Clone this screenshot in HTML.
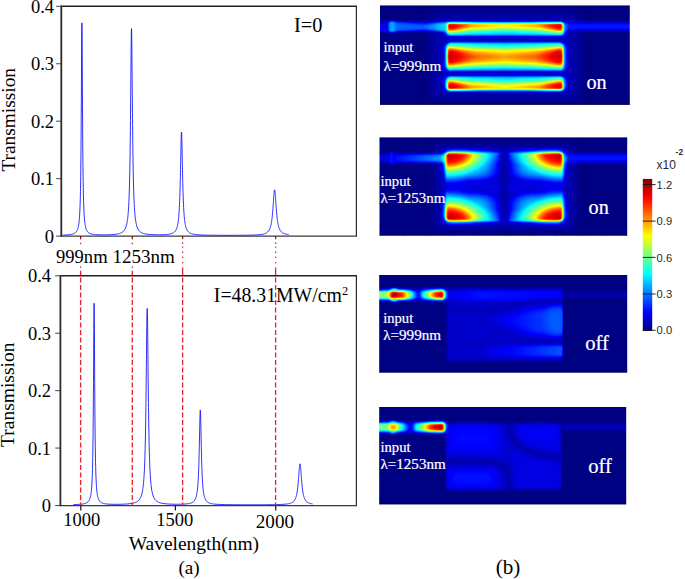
<!DOCTYPE html>
<html lang="en"><head><meta charset="utf-8"><title>Transmission spectra and field maps</title>
<style>html,body{margin:0;padding:0;background:#fff}svg{display:block}</style></head><body>
<svg width="685" height="579" viewBox="0 0 685 579">
<defs>
<filter id="jet" x="0" y="0" width="100%" height="100%" filterUnits="objectBoundingBox" color-interpolation-filters="sRGB"><feComponentTransfer><feFuncR type="table" tableValues="0 0 0 0 0.5 1 1 1 0.5"/><feFuncG type="table" tableValues="0 0 0.5 1 1 1 0.5 0 0"/><feFuncB type="table" tableValues="0.5 1 1 1 0.5 0 0 0 0"/></feComponentTransfer></filter>
<filter id="b05" filterUnits="userSpaceOnUse" x="360" y="-10" width="300" height="540" color-interpolation-filters="sRGB"><feGaussianBlur stdDeviation="0.5"/></filter>
<filter id="b1" filterUnits="userSpaceOnUse" x="360" y="-10" width="300" height="540" color-interpolation-filters="sRGB"><feGaussianBlur stdDeviation="1"/></filter>
<filter id="b12" filterUnits="userSpaceOnUse" x="360" y="-10" width="300" height="540" color-interpolation-filters="sRGB"><feGaussianBlur stdDeviation="1.25"/></filter>
<filter id="b15" filterUnits="userSpaceOnUse" x="360" y="-10" width="300" height="540" color-interpolation-filters="sRGB"><feGaussianBlur stdDeviation="1.5"/></filter>
<filter id="b2" filterUnits="userSpaceOnUse" x="360" y="-10" width="300" height="540" color-interpolation-filters="sRGB"><feGaussianBlur stdDeviation="2"/></filter>
<filter id="b3" filterUnits="userSpaceOnUse" x="360" y="-10" width="300" height="540" color-interpolation-filters="sRGB"><feGaussianBlur stdDeviation="3"/></filter>
<filter id="b4" filterUnits="userSpaceOnUse" x="360" y="-10" width="300" height="540" color-interpolation-filters="sRGB"><feGaussianBlur stdDeviation="4"/></filter>
<filter id="b6" filterUnits="userSpaceOnUse" x="360" y="-10" width="300" height="540" color-interpolation-filters="sRGB"><feGaussianBlur stdDeviation="6"/></filter>
<linearGradient id="cbar" x1="0" y1="1" x2="0" y2="0"><stop offset="0" stop-color="#000080"/><stop offset="0.125" stop-color="#0000ff"/><stop offset="0.375" stop-color="#00ffff"/><stop offset="0.5" stop-color="#80ff80"/><stop offset="0.625" stop-color="#ffff00"/><stop offset="0.875" stop-color="#ff0000"/><stop offset="1" stop-color="#800000"/></linearGradient>
</defs>
<rect width="685" height="579" fill="#fff"/>
<path d="M63.00,235.13 L65.00,235.04 L67.00,234.92 L69.00,234.74 L69.50,234.68 L70.00,234.62 L70.50,234.54 L71.00,234.46 L71.50,234.36 L72.00,234.25 L72.50,234.12 L73.00,233.97 L73.50,233.79 L74.00,233.57 L74.50,233.32 L75.00,233.00 L75.50,232.61 L76.00,232.12 L76.50,231.50 L77.00,230.67 L77.15,230.38 L77.30,230.05 L77.45,229.69 L77.60,229.30 L77.75,228.86 L77.90,228.38 L78.05,227.84 L78.20,227.23 L78.35,226.56 L78.50,225.79 L78.65,224.93 L78.80,223.95 L78.95,222.82 L79.10,221.53 L79.25,220.03 L79.40,218.28 L79.55,216.23 L79.70,213.80 L79.85,210.90 L80.00,207.40 L80.15,203.16 L80.30,197.94 L80.45,191.48 L80.51,188.46 L80.57,185.15 L80.63,181.52 L80.69,177.54 L80.75,173.15 L80.81,168.33 L80.87,163.03 L80.93,157.20 L80.99,150.78 L81.05,143.75 L81.11,136.05 L81.17,127.67 L81.23,118.59 L81.29,108.83 L81.35,98.47 L81.41,87.62 L81.47,76.49 L81.53,65.34 L81.59,54.56 L81.65,44.60 L81.71,35.97 L81.77,29.19 L81.83,24.71 L81.89,22.87 L81.95,23.79 L82.01,27.42 L82.07,33.48 L82.13,41.55 L82.19,51.12 L82.25,61.68 L82.31,72.75 L82.37,83.92 L82.43,94.89 L82.49,105.43 L82.55,115.40 L82.61,124.71 L82.67,133.33 L82.73,141.25 L82.79,148.50 L82.85,155.12 L82.91,161.14 L82.97,166.61 L83.03,171.59 L83.09,176.11 L83.15,180.22 L83.21,183.96 L83.27,187.37 L83.33,190.49 L83.39,193.33 L83.45,195.93 L83.60,201.52 L83.75,206.06 L83.90,209.79 L84.05,212.87 L84.20,215.44 L84.35,217.61 L84.50,219.45 L84.65,221.02 L84.80,222.38 L84.95,223.56 L85.10,224.58 L85.25,225.48 L85.40,226.28 L85.55,226.98 L85.70,227.60 L85.85,228.16 L86.00,228.66 L86.15,229.11 L86.30,229.52 L86.45,229.89 L86.60,230.22 L86.75,230.53 L86.90,230.81 L87.40,231.58 L87.90,232.17 L88.40,232.63 L88.90,233.00 L89.40,233.30 L89.90,233.54 L90.40,233.74 L90.90,233.91 L91.40,234.05 L91.90,234.17 L92.40,234.27 L92.90,234.36 L93.40,234.43 L93.90,234.50 L94.40,234.56 L94.90,234.61 L95.40,234.65 L95.90,234.69 L97.90,234.80 L99.90,234.86 L101.90,234.89 L103.90,234.89 L105.90,234.87 L107.90,234.82 L109.90,234.75 L111.90,234.64 L113.90,234.49 L115.90,234.26 L117.90,233.92 L118.40,233.81 L118.90,233.68 L119.40,233.54 L119.90,233.38 L120.40,233.20 L120.90,232.99 L121.40,232.75 L121.90,232.47 L122.40,232.15 L122.90,231.76 L123.40,231.31 L123.90,230.77 L124.40,230.11 L124.90,229.31 L125.40,228.30 L125.90,227.03 L126.40,225.39 L126.90,223.24 L127.05,222.45 L127.20,221.60 L127.35,220.65 L127.50,219.61 L127.65,218.46 L127.80,217.18 L127.95,215.76 L128.10,214.17 L128.25,212.39 L128.40,210.38 L128.55,208.12 L128.70,205.55 L128.85,202.62 L129.00,199.28 L129.15,195.44 L129.30,191.02 L129.45,185.90 L129.60,179.95 L129.75,173.02 L129.90,164.95 L130.05,155.54 L130.11,151.36 L130.17,146.92 L130.23,142.22 L130.29,137.25 L130.35,131.99 L130.41,126.45 L130.47,120.64 L130.53,114.56 L130.59,108.22 L130.65,101.65 L130.71,94.89 L130.77,87.98 L130.83,80.99 L130.89,73.99 L130.95,67.08 L131.01,60.36 L131.07,53.95 L131.13,47.98 L131.19,42.59 L131.25,37.91 L131.31,34.08 L131.37,31.19 L131.43,29.34 L131.49,28.60 L131.55,28.97 L131.61,30.45 L131.67,33.00 L131.73,36.53 L131.79,40.94 L131.85,46.11 L131.91,51.90 L131.97,58.18 L132.03,64.81 L132.09,71.67 L132.15,78.65 L132.21,85.66 L132.27,92.60 L132.33,99.41 L132.39,106.05 L132.45,112.47 L132.51,118.64 L132.57,124.54 L132.63,130.17 L132.69,135.52 L132.75,140.59 L132.81,145.38 L132.87,149.91 L132.93,154.17 L132.99,158.19 L133.05,161.97 L133.20,170.47 L133.35,177.75 L133.50,184.01 L133.65,189.39 L133.80,194.03 L133.95,198.06 L134.10,201.55 L134.25,204.61 L134.40,207.29 L134.55,209.65 L134.70,211.74 L134.85,213.59 L135.00,215.24 L135.15,216.72 L135.30,218.04 L135.45,219.23 L135.60,220.31 L135.75,221.28 L135.90,222.17 L136.05,222.97 L136.20,223.71 L136.35,224.38 L136.50,225.00 L137.00,226.73 L137.50,228.06 L138.00,229.11 L138.50,229.95 L139.00,230.63 L139.50,231.19 L140.00,231.66 L140.50,232.06 L141.00,232.39 L141.50,232.67 L142.00,232.92 L142.50,233.13 L143.00,233.32 L143.50,233.48 L144.00,233.62 L144.50,233.75 L145.00,233.86 L145.50,233.96 L147.50,234.27 L149.50,234.48 L151.50,234.61 L153.50,234.70 L155.50,234.76 L157.50,234.79 L159.50,234.78 L161.50,234.75 L163.50,234.69 L165.50,234.58 L167.50,234.40 L168.00,234.34 L168.50,234.27 L169.00,234.19 L169.50,234.11 L170.00,234.00 L170.50,233.89 L171.00,233.76 L171.50,233.60 L172.00,233.43 L172.50,233.22 L173.00,232.97 L173.50,232.68 L174.00,232.33 L174.50,231.90 L175.00,231.37 L175.50,230.72 L176.00,229.88 L176.50,228.81 L176.65,228.43 L176.80,228.01 L176.95,227.56 L177.10,227.06 L177.25,226.52 L177.40,225.92 L177.55,225.26 L177.70,224.53 L177.85,223.72 L178.00,222.83 L178.15,221.83 L178.30,220.72 L178.45,219.47 L178.60,218.07 L178.75,216.48 L178.90,214.69 L179.05,212.65 L179.20,210.34 L179.35,207.69 L179.50,204.66 L179.65,201.19 L179.80,197.22 L179.95,192.67 L180.10,187.50 L180.16,185.24 L180.22,182.87 L180.28,180.39 L180.34,177.81 L180.40,175.12 L180.46,172.32 L180.52,169.44 L180.58,166.48 L180.64,163.45 L180.70,160.37 L180.76,157.28 L180.82,154.19 L180.88,151.13 L180.94,148.16 L181.00,145.30 L181.06,142.60 L181.12,140.11 L181.18,137.88 L181.24,135.95 L181.30,134.36 L181.36,133.16 L181.42,132.36 L181.48,132.00 L181.54,132.07 L181.60,132.58 L181.66,133.52 L181.72,134.85 L181.78,136.56 L181.84,138.60 L181.90,140.92 L181.96,143.48 L182.02,146.24 L182.08,149.14 L182.14,152.15 L182.20,155.22 L182.26,158.32 L182.32,161.41 L182.38,164.47 L182.44,167.48 L182.50,170.42 L182.56,173.27 L182.62,176.03 L182.68,178.69 L182.74,181.24 L182.80,183.68 L182.86,186.02 L182.92,188.24 L182.98,190.35 L183.04,192.36 L183.19,196.95 L183.34,200.96 L183.49,204.46 L183.64,207.52 L183.79,210.19 L183.94,212.53 L184.09,214.58 L184.24,216.39 L184.39,217.99 L184.54,219.41 L184.69,220.67 L184.84,221.79 L184.99,222.80 L185.14,223.70 L185.29,224.51 L185.44,225.25 L185.59,225.91 L185.74,226.51 L185.89,227.06 L186.04,227.56 L186.19,228.02 L186.34,228.44 L186.49,228.83 L186.64,229.18 L187.14,230.19 L187.64,230.97 L188.14,231.59 L188.64,232.09 L189.14,232.50 L189.64,232.84 L190.14,233.12 L190.64,233.36 L191.14,233.57 L191.64,233.74 L192.14,233.89 L192.64,234.03 L193.14,234.14 L193.64,234.25 L194.14,234.34 L194.64,234.42 L195.14,234.49 L195.64,234.55 L197.64,234.76 L199.64,234.90 L201.64,235.00 L203.64,235.07 L205.64,235.13 L207.64,235.18 L209.64,235.21 L211.64,235.24 L213.64,235.26 L215.64,235.28 L217.64,235.29 L219.64,235.30 L221.64,235.31 L223.64,235.32 L225.64,235.32 L227.64,235.33 L229.64,235.33 L231.64,235.32 L233.64,235.32 L235.64,235.32 L237.64,235.31 L239.64,235.30 L241.64,235.28 L243.64,235.26 L245.64,235.24 L247.64,235.21 L249.64,235.17 L251.64,235.12 L253.64,235.06 L255.64,234.97 L257.64,234.85 L259.64,234.67 L261.64,234.42 L262.14,234.33 L262.64,234.24 L263.14,234.13 L263.64,234.01 L264.14,233.87 L264.64,233.71 L265.14,233.53 L265.64,233.31 L266.14,233.07 L266.64,232.77 L267.14,232.42 L267.64,232.00 L268.14,231.49 L268.64,230.86 L269.14,230.08 L269.64,229.10 L269.79,228.75 L269.94,228.38 L270.09,227.98 L270.24,227.55 L270.39,227.08 L270.54,226.57 L270.69,226.01 L270.84,225.41 L270.99,224.76 L271.14,224.05 L271.29,223.27 L271.44,222.42 L271.59,221.50 L271.74,220.49 L271.89,219.38 L272.04,218.18 L272.19,216.86 L272.34,215.43 L272.49,213.87 L272.64,212.19 L272.79,210.38 L272.94,208.44 L273.09,206.40 L273.24,204.26 L273.30,203.38 L273.36,202.50 L273.42,201.61 L273.48,200.72 L273.54,199.83 L273.60,198.95 L273.66,198.08 L273.72,197.22 L273.78,196.39 L273.84,195.58 L273.90,194.80 L273.96,194.06 L274.02,193.36 L274.08,192.71 L274.14,192.11 L274.20,191.57 L274.26,191.10 L274.32,190.69 L274.38,190.36 L274.44,190.11 L274.50,189.93 L274.56,189.83 L274.62,189.82 L274.68,189.89 L274.74,190.04 L274.80,190.27 L274.86,190.58 L274.92,190.96 L274.98,191.41 L275.04,191.92 L275.10,192.50 L275.16,193.14 L275.22,193.82 L275.28,194.55 L275.34,195.32 L275.40,196.12 L275.46,196.94 L275.52,197.79 L275.58,198.66 L275.64,199.54 L275.70,200.42 L275.76,201.31 L275.82,202.20 L275.88,203.09 L275.94,203.97 L276.00,204.84 L276.06,205.69 L276.12,206.54 L276.27,208.58 L276.42,210.51 L276.57,212.31 L276.72,213.98 L276.87,215.53 L277.02,216.96 L277.17,218.26 L277.32,219.46 L277.47,220.56 L277.62,221.57 L277.77,222.49 L277.92,223.33 L278.07,224.10 L278.22,224.81 L278.37,225.46 L278.52,226.06 L278.67,226.61 L278.82,227.11 L278.97,227.58 L279.12,228.01 L279.27,228.41 L279.42,228.78 L279.57,229.13 L279.72,229.45 L280.22,230.36 L280.72,231.09 L281.22,231.67 L281.72,232.15 L282.22,232.55 L282.72,232.88 L283.22,233.16 L283.72,233.40 L284.22,233.60 L284.72,233.78 L285.22,233.93 L285.72,234.06 L286.22,234.18 L286.72,234.28 L287.22,234.38 L287.72,234.46 L288.22,234.53 L288.72,234.60" fill="none" stroke="#0808ff" stroke-width="0.85" stroke-linejoin="round"/>
<path d="M356.4,6.3 V236.1" fill="none" stroke="#2a2a2a" stroke-width="1.2"/>
<path d="M61.3,6.3 H357.0" fill="none" stroke="#222" stroke-width="1.5"/>
<path d="M60.4,236.1 H357.0" fill="none" stroke="#3a3a3a" stroke-width="1.25"/>
<path d="M61.3,5.55 V236.75" fill="none" stroke="#2c2c2c" stroke-width="1.8"/>
<path d="M56.099999999999994,236.10 H61.3" stroke="#333" stroke-width="0.9"/>
<path d="M56.099999999999994,178.65 H61.3" stroke="#333" stroke-width="0.9"/>
<path d="M56.099999999999994,121.20 H61.3" stroke="#333" stroke-width="0.9"/>
<path d="M56.099999999999994,63.75 H61.3" stroke="#333" stroke-width="0.9"/>
<path d="M56.099999999999994,6.30 H61.3" stroke="#333" stroke-width="0.9"/>
<path d="M73.50,504.59 L75.50,504.52 L77.50,504.43 L79.50,504.31 L81.50,504.12 L82.00,504.06 L82.50,503.99 L83.00,503.92 L83.50,503.83 L84.00,503.72 L84.50,503.60 L85.00,503.47 L85.50,503.30 L86.00,503.11 L86.50,502.88 L87.00,502.59 L87.50,502.25 L88.00,501.81 L88.50,501.26 L89.00,500.55 L89.50,499.59 L89.65,499.24 L89.80,498.86 L89.95,498.43 L90.10,497.96 L90.25,497.44 L90.40,496.85 L90.55,496.19 L90.70,495.45 L90.85,494.61 L91.00,493.66 L91.15,492.57 L91.30,491.31 L91.45,489.86 L91.60,488.16 L91.75,486.17 L91.90,483.81 L92.05,481.01 L92.20,477.63 L92.35,473.52 L92.50,468.49 L92.65,462.25 L92.71,459.35 L92.77,456.17 L92.83,452.68 L92.89,448.85 L92.95,444.65 L93.01,440.03 L93.07,434.96 L93.13,429.38 L93.19,423.26 L93.25,416.56 L93.31,409.25 L93.37,401.29 L93.43,392.69 L93.49,383.48 L93.55,373.72 L93.61,363.53 L93.67,353.10 L93.73,342.68 L93.79,332.64 L93.85,323.39 L93.91,315.39 L93.97,309.11 L94.03,304.97 L94.09,303.27 L94.15,304.12 L94.21,307.47 L94.27,313.08 L94.33,320.55 L94.39,329.44 L94.45,339.27 L94.51,349.60 L94.57,360.06 L94.63,370.36 L94.69,380.28 L94.75,389.68 L94.81,398.49 L94.87,406.66 L94.93,414.19 L94.99,421.09 L95.05,427.40 L95.11,433.15 L95.17,438.38 L95.23,443.15 L95.29,447.48 L95.35,451.43 L95.41,455.03 L95.47,458.31 L95.53,461.30 L95.59,464.04 L95.65,466.54 L95.80,471.94 L95.95,476.33 L96.10,479.93 L96.25,482.91 L96.40,485.41 L96.55,487.51 L96.70,489.29 L96.85,490.82 L97.00,492.14 L97.15,493.28 L97.30,494.28 L97.45,495.15 L97.60,495.92 L97.75,496.61 L97.90,497.21 L98.05,497.76 L98.20,498.24 L98.35,498.68 L98.50,499.08 L98.65,499.44 L98.80,499.76 L98.95,500.06 L99.10,500.33 L99.60,501.08 L100.10,501.66 L100.60,502.11 L101.10,502.46 L101.60,502.75 L102.10,502.99 L102.60,503.18 L103.10,503.35 L103.60,503.48 L104.10,503.60 L104.60,503.70 L105.10,503.79 L105.60,503.86 L106.10,503.92 L106.60,503.98 L107.10,504.03 L107.60,504.07 L108.10,504.11 L110.10,504.22 L112.10,504.28 L114.10,504.32 L116.10,504.32 L118.10,504.31 L120.10,504.28 L122.10,504.23 L124.10,504.15 L126.10,504.04 L128.10,503.89 L130.10,503.67 L132.10,503.36 L134.10,502.90 L134.60,502.75 L135.10,502.58 L135.60,502.38 L136.10,502.16 L136.60,501.91 L137.10,501.62 L137.60,501.29 L138.10,500.90 L138.60,500.44 L139.10,499.89 L139.60,499.24 L140.10,498.45 L140.60,497.49 L141.10,496.29 L141.60,494.78 L142.10,492.84 L142.60,490.30 L142.75,489.38 L142.90,488.38 L143.05,487.28 L143.20,486.06 L143.35,484.73 L143.50,483.25 L143.65,481.60 L143.80,479.78 L143.95,477.74 L144.10,475.46 L144.25,472.89 L144.40,470.00 L144.55,466.73 L144.70,463.03 L144.85,458.81 L145.00,454.00 L145.15,448.50 L145.30,442.20 L145.45,434.99 L145.60,426.73 L145.75,417.31 L145.81,413.19 L145.87,408.87 L145.93,404.34 L145.99,399.60 L146.05,394.65 L146.11,389.51 L146.17,384.17 L146.23,378.67 L146.29,373.02 L146.35,367.25 L146.41,361.40 L146.47,355.52 L146.53,349.65 L146.59,343.87 L146.65,338.25 L146.71,332.86 L146.77,327.80 L146.83,323.15 L146.89,319.00 L146.95,315.44 L147.01,312.54 L147.07,310.38 L147.13,309.00 L147.19,308.44 L147.25,308.72 L147.31,309.83 L147.37,311.73 L147.43,314.39 L147.49,317.74 L147.55,321.71 L147.61,326.20 L147.67,331.14 L147.73,336.42 L147.79,341.98 L147.85,347.71 L147.91,353.55 L147.97,359.44 L148.03,365.31 L148.09,371.11 L148.15,376.80 L148.21,382.36 L148.27,387.75 L148.33,392.96 L148.39,397.97 L148.45,402.78 L148.51,407.38 L148.57,411.77 L148.63,415.96 L148.69,419.94 L148.75,423.72 L148.90,432.36 L149.05,439.90 L149.20,446.49 L149.35,452.25 L149.50,457.27 L149.65,461.68 L149.80,465.55 L149.95,468.95 L150.10,471.96 L150.25,474.63 L150.40,477.00 L150.55,479.12 L150.70,481.01 L150.85,482.71 L151.00,484.25 L151.15,485.63 L151.30,486.88 L151.45,488.02 L151.60,489.05 L151.75,490.00 L151.90,490.86 L152.05,491.66 L152.20,492.39 L152.70,494.43 L153.20,496.01 L153.70,497.26 L154.20,498.27 L154.70,499.09 L155.20,499.76 L155.70,500.33 L156.20,500.80 L156.70,501.20 L157.20,501.55 L157.70,501.84 L158.20,502.10 L158.70,502.33 L159.20,502.53 L159.70,502.70 L160.20,502.86 L160.70,502.99 L161.20,503.12 L163.20,503.50 L165.20,503.76 L167.20,503.93 L169.20,504.06 L171.20,504.15 L173.20,504.21 L175.20,504.24 L177.20,504.25 L179.20,504.24 L181.20,504.21 L183.20,504.14 L185.20,504.03 L187.20,503.84 L187.70,503.77 L188.20,503.70 L188.70,503.62 L189.20,503.53 L189.70,503.42 L190.20,503.29 L190.70,503.15 L191.20,502.97 L191.70,502.77 L192.20,502.53 L192.70,502.24 L193.20,501.90 L193.70,501.47 L194.20,500.93 L194.70,500.26 L195.20,499.39 L195.70,498.24 L195.85,497.83 L196.00,497.38 L196.15,496.88 L196.30,496.33 L196.45,495.73 L196.60,495.06 L196.75,494.31 L196.90,493.48 L197.05,492.56 L197.20,491.52 L197.35,490.35 L197.50,489.02 L197.65,487.52 L197.80,485.82 L197.95,483.88 L198.10,481.65 L198.25,479.09 L198.40,476.15 L198.55,472.76 L198.70,468.86 L198.85,464.38 L198.91,462.41 L198.97,460.34 L199.03,458.15 L199.09,455.86 L199.15,453.46 L199.21,450.95 L199.27,448.34 L199.33,445.64 L199.39,442.85 L199.45,439.99 L199.51,437.07 L199.57,434.12 L199.63,431.17 L199.69,428.25 L199.75,425.40 L199.81,422.65 L199.87,420.06 L199.93,417.66 L199.99,415.52 L200.05,413.67 L200.11,412.17 L200.17,411.04 L200.23,410.33 L200.29,410.04 L200.35,410.18 L200.41,410.76 L200.47,411.75 L200.53,413.13 L200.59,414.87 L200.65,416.92 L200.71,419.24 L200.77,421.77 L200.83,424.47 L200.89,427.30 L200.95,430.20 L201.01,433.15 L201.07,436.10 L201.13,439.03 L201.19,441.91 L201.25,444.73 L201.31,447.46 L201.37,450.10 L201.43,452.65 L201.49,455.08 L201.55,457.41 L201.61,459.63 L201.67,461.74 L201.73,463.75 L201.79,465.65 L201.85,467.45 L202.00,471.54 L202.15,475.09 L202.30,478.17 L202.45,480.85 L202.60,483.19 L202.75,485.22 L202.90,487.00 L203.05,488.57 L203.20,489.95 L203.35,491.17 L203.50,492.25 L203.65,493.22 L203.80,494.08 L203.95,494.85 L204.10,495.55 L204.25,496.17 L204.40,496.74 L204.55,497.25 L204.70,497.72 L204.85,498.15 L205.00,498.54 L205.15,498.90 L205.30,499.23 L205.80,500.15 L206.30,500.86 L206.80,501.43 L207.30,501.88 L207.80,502.25 L208.30,502.55 L208.80,502.81 L209.30,503.02 L209.80,503.20 L210.30,503.36 L210.80,503.49 L211.30,503.61 L211.80,503.71 L212.30,503.80 L212.80,503.88 L213.30,503.95 L213.80,504.02 L214.30,504.07 L216.30,504.25 L218.30,504.37 L220.30,504.46 L222.30,504.53 L224.30,504.58 L226.30,504.62 L228.30,504.65 L230.30,504.68 L232.30,504.70 L234.30,504.71 L236.30,504.73 L238.30,504.74 L240.30,504.75 L242.30,504.75 L244.30,504.76 L246.30,504.76 L248.30,504.77 L250.30,504.77 L252.30,504.77 L254.30,504.77 L256.30,504.76 L258.30,504.76 L260.30,504.76 L262.30,504.75 L264.30,504.74 L266.30,504.73 L268.30,504.71 L270.30,504.69 L272.30,504.67 L274.30,504.64 L276.30,504.60 L278.30,504.55 L280.30,504.48 L282.30,504.39 L284.30,504.26 L286.30,504.07 L286.80,504.01 L287.30,503.94 L287.80,503.86 L288.30,503.78 L288.80,503.68 L289.30,503.57 L289.80,503.44 L290.30,503.29 L290.80,503.12 L291.30,502.92 L291.80,502.69 L292.30,502.42 L292.80,502.08 L293.30,501.68 L293.80,501.19 L294.30,500.59 L294.80,499.83 L295.30,498.86 L295.45,498.52 L295.60,498.15 L295.75,497.75 L295.90,497.32 L296.05,496.85 L296.20,496.33 L296.35,495.78 L296.50,495.17 L296.65,494.50 L296.80,493.77 L296.95,492.98 L297.10,492.11 L297.25,491.16 L297.40,490.11 L297.55,488.97 L297.70,487.72 L297.85,486.36 L298.00,484.88 L298.15,483.28 L298.30,481.56 L298.45,479.73 L298.60,477.80 L298.66,477.00 L298.72,476.20 L298.78,475.38 L298.84,474.57 L298.90,473.75 L298.96,472.93 L299.02,472.11 L299.08,471.31 L299.14,470.52 L299.20,469.75 L299.26,469.00 L299.32,468.29 L299.38,467.60 L299.44,466.96 L299.50,466.37 L299.56,465.82 L299.62,465.34 L299.68,464.91 L299.74,464.55 L299.80,464.26 L299.86,464.05 L299.92,463.90 L299.98,463.84 L300.04,463.85 L300.10,463.94 L300.16,464.11 L300.22,464.35 L300.28,464.66 L300.34,465.05 L300.40,465.49 L300.46,466.00 L300.52,466.56 L300.58,467.17 L300.64,467.83 L300.70,468.52 L300.76,469.25 L300.82,470.01 L300.88,470.78 L300.94,471.58 L301.00,472.39 L301.06,473.20 L301.12,474.02 L301.18,474.84 L301.24,475.66 L301.30,476.47 L301.36,477.27 L301.42,478.06 L301.48,478.84 L301.54,479.61 L301.69,481.45 L301.84,483.17 L301.99,484.78 L302.14,486.27 L302.29,487.64 L302.44,488.89 L302.59,490.04 L302.74,491.09 L302.89,492.05 L303.04,492.93 L303.19,493.73 L303.34,494.46 L303.49,495.13 L303.64,495.74 L303.79,496.30 L303.94,496.82 L304.09,497.29 L304.24,497.73 L304.39,498.13 L304.54,498.50 L304.69,498.84 L304.84,499.16 L304.99,499.46 L305.14,499.73 L305.64,500.51 L306.14,501.13 L306.64,501.64 L307.14,502.05 L307.64,502.39 L308.14,502.67 L308.64,502.91 L309.14,503.11 L309.64,503.28 L310.14,503.43 L310.64,503.56 L311.14,503.68 L311.64,503.78 L312.14,503.87 L312.64,503.95" fill="none" stroke="#0808ff" stroke-width="0.85" stroke-linejoin="round"/>
<path d="M356.4,275.8 V505.5" fill="none" stroke="#2a2a2a" stroke-width="1.2"/>
<path d="M60.4,275.8 H357.0" fill="none" stroke="#222" stroke-width="1.5"/>
<path d="M59.5,505.5 H357.0" fill="none" stroke="#3a3a3a" stroke-width="1.25"/>
<path d="M60.4,275.05 V506.15" fill="none" stroke="#2c2c2c" stroke-width="1.8"/>
<path d="M55.199999999999996,505.50 H60.4" stroke="#333" stroke-width="0.9"/>
<path d="M55.199999999999996,448.07 H60.4" stroke="#333" stroke-width="0.9"/>
<path d="M55.199999999999996,390.65 H60.4" stroke="#333" stroke-width="0.9"/>
<path d="M55.199999999999996,333.23 H60.4" stroke="#333" stroke-width="0.9"/>
<path d="M55.199999999999996,275.80 H60.4" stroke="#333" stroke-width="0.9"/>
<text x="54.0" y="242.5" font-size="18.5" text-anchor="end" fill="#000" font-family='"Liberation Serif", "Times New Roman", serif'>0</text>
<text x="51.0" y="511.9" font-size="18.5" text-anchor="end" fill="#000" font-family='"Liberation Serif", "Times New Roman", serif'>0</text>
<text x="54.0" y="185.1" font-size="18.5" text-anchor="end" fill="#000" font-family='"Liberation Serif", "Times New Roman", serif'>0.1</text>
<text x="51.0" y="454.5" font-size="18.5" text-anchor="end" fill="#000" font-family='"Liberation Serif", "Times New Roman", serif'>0.1</text>
<text x="54.0" y="127.6" font-size="18.5" text-anchor="end" fill="#000" font-family='"Liberation Serif", "Times New Roman", serif'>0.2</text>
<text x="51.0" y="397.1" font-size="18.5" text-anchor="end" fill="#000" font-family='"Liberation Serif", "Times New Roman", serif'>0.2</text>
<text x="54.0" y="70.2" font-size="18.5" text-anchor="end" fill="#000" font-family='"Liberation Serif", "Times New Roman", serif'>0.3</text>
<text x="51.0" y="339.6" font-size="18.5" text-anchor="end" fill="#000" font-family='"Liberation Serif", "Times New Roman", serif'>0.3</text>
<text x="54.0" y="12.7" font-size="18.5" text-anchor="end" fill="#000" font-family='"Liberation Serif", "Times New Roman", serif'>0.4</text>
<text x="51.0" y="282.2" font-size="18.5" text-anchor="end" fill="#000" font-family='"Liberation Serif", "Times New Roman", serif'>0.4</text>
<text transform="translate(14.6,119.8) rotate(-90)" font-size="19.2" text-anchor="middle" textLength="103.6" lengthAdjust="spacingAndGlyphs" font-family='"Liberation Serif", "Times New Roman", serif'>Transmission</text>
<text transform="translate(14.2,394.8) rotate(-90)" font-size="19.2" text-anchor="middle" textLength="104.4" lengthAdjust="spacingAndGlyphs" font-family='"Liberation Serif", "Times New Roman", serif'>Transmission</text>
<path d="M80.6,236.8 V239.6 M80.6,242.8 V244.2 M80.6,266.4 V267.8 M80.6,270.8 V275" stroke="#ea1f2f" stroke-width="1.3"/>
<path d="M80.6,277.6 V505.5" stroke="#ea1f2f" stroke-width="1.3" stroke-dasharray="5.0 2.5"/>
<path d="M80.6,236.1 v2" stroke="#222" stroke-width="0.9"/>
<path d="M132.3,236.8 V239.6 M132.3,242.8 V244.2 M132.3,266.4 V267.8 M132.3,270.8 V275" stroke="#ea1f2f" stroke-width="1.3"/>
<path d="M132.3,277.6 V505.5" stroke="#ea1f2f" stroke-width="1.3" stroke-dasharray="5.0 2.5"/>
<path d="M132.3,236.1 v2" stroke="#222" stroke-width="0.9"/>
<path d="M182.6,236.8 V239.2 M182.6,242.6 v1.3 M182.6,246.4 v1.3 M182.6,251.6 v1.3 M182.6,256.8 v1.3 M182.6,262.0 v1.3 M182.6,267.6 V275" stroke="#ea1f2f" stroke-width="1.3"/>
<path d="M182.6,277.6 V505.5" stroke="#ea1f2f" stroke-width="1.3" stroke-dasharray="5.0 2.5"/>
<path d="M182.6,236.1 v2" stroke="#222" stroke-width="0.9"/>
<path d="M275.6,236.8 V239.2 M275.6,242.6 v1.3 M275.6,246.4 v1.3 M275.6,251.6 v1.3 M275.6,256.8 v1.3 M275.6,262.0 v1.3 M275.6,267.6 V275" stroke="#ea1f2f" stroke-width="1.3"/>
<path d="M275.6,277.6 V505.5" stroke="#ea1f2f" stroke-width="1.3" stroke-dasharray="5.0 2.5"/>
<path d="M275.6,236.1 v2" stroke="#222" stroke-width="0.9"/>
<path d="M80.8,505.5 v5.0" stroke="#1a1a1a" stroke-width="1.25"/>
<path d="M175.4,505.5 v5.0" stroke="#1a1a1a" stroke-width="1.25"/>
<path d="M275.7,505.5 v5.0" stroke="#1a1a1a" stroke-width="1.25"/>
<text x="56.0" y="263.0" font-size="19.3" text-anchor="start" fill="#000" font-family='"Liberation Serif", "Times New Roman", serif' textLength="51.6" lengthAdjust="spacingAndGlyphs">999nm</text>
<text x="112.4" y="263.0" font-size="19.3" text-anchor="start" fill="#000" font-family='"Liberation Serif", "Times New Roman", serif' textLength="62.4" lengthAdjust="spacingAndGlyphs">1253nm</text>
<text x="294.0" y="31.6" font-size="20" text-anchor="start" fill="#000" font-family='"Liberation Serif", "Times New Roman", serif' textLength="28.4" lengthAdjust="spacingAndGlyphs">I=0</text>
<text x="213.8" y="302.3" font-size="20" font-family='"Liberation Serif", "Times New Roman", serif' textLength="134.3" lengthAdjust="spacingAndGlyphs">I=48.31MW/cm<tspan font-size="12.5" dy="-7.5">2</tspan></text>
<text x="81.7" y="525.8" font-size="18.5" text-anchor="middle" fill="#000" font-family='"Liberation Serif", "Times New Roman", serif'>1000</text>
<text x="174.8" y="526.2" font-size="18.5" text-anchor="middle" fill="#000" font-family='"Liberation Serif", "Times New Roman", serif'>1500</text>
<text x="274.9" y="528.0" font-size="18.5" text-anchor="middle" fill="#000" font-family='"Liberation Serif", "Times New Roman", serif' textLength="38.2" lengthAdjust="spacingAndGlyphs">2000</text>
<text x="128.7" y="549.5" font-size="19.8" text-anchor="start" fill="#000" font-family='"Liberation Serif", "Times New Roman", serif' textLength="130.4" lengthAdjust="spacingAndGlyphs">Wavelength(nm)</text>
<text x="189.0" y="573.9" font-size="19.4" text-anchor="middle" fill="#000" font-family='"Liberation Serif", "Times New Roman", serif' textLength="21.2" lengthAdjust="spacingAndGlyphs">(a)</text>
<text x="495.7" y="574.2" font-size="20.2" text-anchor="start" fill="#000" font-family='"Liberation Serif", "Times New Roman", serif' textLength="24.6" lengthAdjust="spacingAndGlyphs">(b)</text>
<clipPath id="cp1"><rect x="380.0" y="5.6" width="249.79999999999995" height="99.2"/></clipPath>
<g clip-path="url(#cp1)"><g filter="url(#jet)">
<rect x="375.0" y="0.5999999999999996" width="259.79999999999995" height="109.2" fill="rgb(1,1,1)"/>
<rect x="432" y="14" width="146" height="84" fill="rgb(14,14,14)" filter="url(#b6)"/>
<rect x="376" y="21.4" width="72" height="10.2" fill="rgb(29,29,29)" filter="url(#b1)"/>
<linearGradient id="lg1" x1="0" y1="0" x2="1" y2="0"><stop offset="0" stop-color="rgb(69,69,69)"/><stop offset="0.12" stop-color="rgb(57,57,57)"/><stop offset="0.55" stop-color="rgb(55,55,55)"/><stop offset="0.75" stop-color="rgb(69,69,69)"/><stop offset="0.9" stop-color="rgb(87,87,87)"/><stop offset="1" stop-color="rgb(97,97,97)"/></linearGradient>
<path d="M389.5,21.8 L426,24.2 L438,22.8 L448,22.4 L448,31.4 L438,31.0 L426,29.6 L389.5,31.8 Z" fill="url(#lg1)" filter="url(#b1)"/>
<rect x="389.3" y="21.8" width="5.5" height="10.0" fill="rgb(74,74,74)" filter="url(#b1)"/>
<rect x="560" y="22.4" width="74" height="8.0" fill="rgb(38,38,38)" filter="url(#b15)"/>
<linearGradient id="lg2" x1="0" y1="0" x2="1" y2="0"><stop offset="0" stop-color="rgb(255,255,255)"/><stop offset="0.08" stop-color="rgb(247,247,247)"/><stop offset="0.24" stop-color="rgb(214,214,214)"/><stop offset="0.5" stop-color="rgb(196,196,196)"/><stop offset="0.76" stop-color="rgb(214,214,214)"/><stop offset="0.92" stop-color="rgb(247,247,247)"/><stop offset="1" stop-color="rgb(255,255,255)"/></linearGradient>
<linearGradient id="lg3" x1="0" y1="0" x2="1" y2="0"><stop offset="0" stop-color="rgb(255,255,255)"/><stop offset="0.07" stop-color="rgb(247,247,247)"/><stop offset="0.2" stop-color="rgb(204,204,204)"/><stop offset="0.5" stop-color="rgb(178,178,178)"/><stop offset="0.8" stop-color="rgb(204,204,204)"/><stop offset="0.93" stop-color="rgb(247,247,247)"/><stop offset="1" stop-color="rgb(255,255,255)"/></linearGradient>
<rect x="444.8" y="23.0" width="121.0" height="11.6" rx="3" fill="rgb(76,76,76)" filter="url(#b2)"/>
<rect x="444.8" y="43.6" width="121.0" height="26.4" rx="4" fill="rgb(76,76,76)" filter="url(#b2)"/>
<rect x="444.8" y="77.2" width="121.0" height="12.8" rx="3" fill="rgb(76,76,76)" filter="url(#b2)"/>
<linearGradient id="lg4" x1="0" y1="0" x2="1" y2="0"><stop offset="0" stop-color="rgb(237,237,237)"/><stop offset="0.45" stop-color="rgb(217,217,217)"/><stop offset="1" stop-color="rgb(184,184,184)"/></linearGradient>
<linearGradient id="lg5" x1="0" y1="0" x2="1" y2="0"><stop offset="0" stop-color="rgb(184,184,184)"/><stop offset="0.55" stop-color="rgb(217,217,217)"/><stop offset="1" stop-color="rgb(237,237,237)"/></linearGradient>
<linearGradient id="lg6" x1="0" y1="0" x2="0" y2="1"><stop offset="0" stop-color="rgb(209,209,209)"/><stop offset="0.15" stop-color="rgb(240,240,240)"/><stop offset="0.4" stop-color="rgb(212,212,212)"/><stop offset="0.62" stop-color="rgb(168,168,168)"/><stop offset="0.84" stop-color="rgb(120,120,120)"/><stop offset="1" stop-color="rgb(92,92,92)"/></linearGradient>
<g filter="url(#b12)">
<rect x="447.6" y="23.2" width="115.2" height="11.2" rx="1.5" fill="url(#lg6)"/>
<rect x="447.6" y="23.2" width="115.2" height="11.2" rx="1.5" fill="url(#lg3)" style="mix-blend-mode:multiply"/>
<path d="M448.6,24.2 L476,24.2 L448.6,31.0 Z" fill="url(#lg4)" filter="url(#b15)" style="mix-blend-mode:lighten"/>
<path d="M561.8,24.2 L534,24.2 L561.8,31.0 Z" fill="url(#lg5)" filter="url(#b15)" style="mix-blend-mode:lighten"/>
</g>
<linearGradient id="lg7" x1="0" y1="0" x2="0" y2="1"><stop offset="0" stop-color="rgb(87,87,87)"/><stop offset="0.08" stop-color="rgb(117,117,117)"/><stop offset="0.17" stop-color="rgb(163,163,163)"/><stop offset="0.31" stop-color="rgb(214,214,214)"/><stop offset="0.5" stop-color="rgb(242,242,242)"/><stop offset="0.69" stop-color="rgb(214,214,214)"/><stop offset="0.83" stop-color="rgb(163,163,163)"/><stop offset="0.92" stop-color="rgb(117,117,117)"/><stop offset="1" stop-color="rgb(87,87,87)"/></linearGradient>
<g filter="url(#b12)">
<rect x="447.4" y="43.6" width="115.6" height="26.4" rx="4" fill="url(#lg7)"/>
<rect x="447.4" y="43.6" width="115.6" height="26.4" rx="4" fill="url(#lg2)" style="mix-blend-mode:multiply"/>
<path d="M449,48.8 L449,64.8 L478,56.8 Z" fill="url(#lg4)" filter="url(#b15)" style="mix-blend-mode:lighten"/>
<path d="M561.4,48.8 L561.4,64.8 L532,56.8 Z" fill="url(#lg5)" filter="url(#b15)" style="mix-blend-mode:lighten"/>
</g>
<linearGradient id="lg8" x1="0" y1="0" x2="0" y2="1"><stop offset="0" stop-color="rgb(92,92,92)"/><stop offset="0.16" stop-color="rgb(120,120,120)"/><stop offset="0.38" stop-color="rgb(168,168,168)"/><stop offset="0.6" stop-color="rgb(212,212,212)"/><stop offset="0.85" stop-color="rgb(240,240,240)"/><stop offset="1" stop-color="rgb(209,209,209)"/></linearGradient>
<g filter="url(#b12)">
<rect x="447.6" y="77.4" width="115.2" height="12.2" rx="1.5" fill="url(#lg8)"/>
<rect x="447.6" y="77.4" width="115.2" height="12.2" rx="1.5" fill="url(#lg3)" style="mix-blend-mode:multiply"/>
<path d="M448.6,88.6 L476,88.6 L448.6,81.4 Z" fill="url(#lg4)" filter="url(#b15)" style="mix-blend-mode:lighten"/>
<path d="M561.8,88.6 L534,88.6 L561.8,81.4 Z" fill="url(#lg5)" filter="url(#b15)" style="mix-blend-mode:lighten"/>
</g>
</g></g>
<clipPath id="cp2"><rect x="379.5" y="137.4" width="247.70000000000005" height="98.19999999999999"/></clipPath>
<g clip-path="url(#cp2)"><g filter="url(#jet)">
<rect x="374.5" y="132.4" width="257.70000000000005" height="108.19999999999999" fill="rgb(1,1,1)"/>
<rect x="436" y="146" width="138" height="82" fill="rgb(16,16,16)" filter="url(#b6)"/>
<rect x="448" y="181" width="113" height="12" fill="rgb(26,26,26)" filter="url(#b3)"/>
<rect x="376" y="154.2" width="72" height="8.2" fill="rgb(26,26,26)" filter="url(#b15)"/>
<linearGradient id="lg9" x1="0" y1="0" x2="1" y2="0"><stop offset="0" stop-color="rgb(33,33,33)"/><stop offset="0.2" stop-color="rgb(41,41,41)"/><stop offset="0.45" stop-color="rgb(51,51,51)"/><stop offset="0.75" stop-color="rgb(66,66,66)"/><stop offset="1" stop-color="rgb(82,82,82)"/></linearGradient>
<rect x="393.5" y="154.4" width="55" height="7.6" fill="url(#lg9)" filter="url(#b15)"/>
<path d="M388.8,153.2 h5.6 M391.4,153.2 v9.8 M388.8,163 h5.6" stroke="rgb(51,51,51)" stroke-width="1.5" fill="none" filter="url(#b1)"/>
<rect x="560" y="153.6" width="70" height="8.8" fill="rgb(36,36,36)" filter="url(#b15)"/>
<radialGradient id="rg10" gradientUnits="userSpaceOnUse" cx="0" cy="0" r="1" gradientTransform="translate(446.4 153.2) scale(58.0 31.0)"><stop offset="0" stop-color="rgb(247,247,247)"/><stop offset="0.14" stop-color="rgb(237,237,237)"/><stop offset="0.32" stop-color="rgb(217,217,217)"/><stop offset="0.4" stop-color="rgb(191,191,191)"/><stop offset="0.475" stop-color="rgb(159,159,159)"/><stop offset="0.575" stop-color="rgb(128,128,128)"/><stop offset="0.71" stop-color="rgb(96,96,96)"/><stop offset="0.81" stop-color="rgb(69,69,69)"/><stop offset="0.88" stop-color="rgb(51,51,51)"/><stop offset="0.965" stop-color="rgb(26,26,26)"/><stop offset="1" stop-color="rgb(15,15,15)"/></radialGradient>
<linearGradient id="lg11" x1="0" y1="0" x2="1" y2="0"><stop offset="0" stop-color="rgb(94,94,94)"/><stop offset="0.4" stop-color="rgb(94,94,94)"/><stop offset="0.55" stop-color="rgb(88,88,88)"/><stop offset="0.68" stop-color="rgb(74,74,74)"/><stop offset="0.78" stop-color="rgb(55,55,55)"/><stop offset="0.87" stop-color="rgb(36,36,36)"/><stop offset="0.94" stop-color="rgb(21,21,21)"/><stop offset="1" stop-color="rgb(9,9,9)"/></linearGradient>
<linearGradient id="lg12" x1="0" y1="0" x2="0" y2="1"><stop offset="0" stop-color="rgb(255,255,255)"/><stop offset="0.4" stop-color="rgb(255,255,255)"/><stop offset="0.55" stop-color="rgb(237,237,237)"/><stop offset="0.68" stop-color="rgb(199,199,199)"/><stop offset="0.78" stop-color="rgb(148,148,148)"/><stop offset="0.87" stop-color="rgb(97,97,97)"/><stop offset="0.94" stop-color="rgb(56,56,56)"/><stop offset="1" stop-color="rgb(26,26,26)"/></linearGradient>
<rect x="446.4" y="153.2" width="58.0" height="31.0" rx="2" fill="url(#rg10)" filter="url(#b3)" style="mix-blend-mode:lighten"/>
<g filter="url(#b12)" style="mix-blend-mode:lighten">
<g>
<rect x="446.4" y="153.2" width="58.0" height="31.0" rx="2" fill="url(#lg11)"/>
<rect x="446.4" y="153.2" width="58.0" height="31.0" rx="2" fill="url(#lg12)" style="mix-blend-mode:multiply"/>
</g>
<rect x="446.4" y="153.2" width="58.0" height="31.0" rx="2" fill="url(#rg10)" style="mix-blend-mode:lighten"/>
</g>
<radialGradient id="rg13" gradientUnits="userSpaceOnUse" cx="0" cy="0" r="1" gradientTransform="translate(446.4 220.3) scale(58.0 31.0)"><stop offset="0" stop-color="rgb(247,247,247)"/><stop offset="0.14" stop-color="rgb(237,237,237)"/><stop offset="0.32" stop-color="rgb(217,217,217)"/><stop offset="0.4" stop-color="rgb(191,191,191)"/><stop offset="0.475" stop-color="rgb(159,159,159)"/><stop offset="0.575" stop-color="rgb(128,128,128)"/><stop offset="0.71" stop-color="rgb(96,96,96)"/><stop offset="0.81" stop-color="rgb(69,69,69)"/><stop offset="0.88" stop-color="rgb(51,51,51)"/><stop offset="0.965" stop-color="rgb(26,26,26)"/><stop offset="1" stop-color="rgb(15,15,15)"/></radialGradient>
<linearGradient id="lg14" x1="0" y1="0" x2="1" y2="0"><stop offset="0" stop-color="rgb(94,94,94)"/><stop offset="0.4" stop-color="rgb(94,94,94)"/><stop offset="0.55" stop-color="rgb(88,88,88)"/><stop offset="0.68" stop-color="rgb(74,74,74)"/><stop offset="0.78" stop-color="rgb(55,55,55)"/><stop offset="0.87" stop-color="rgb(36,36,36)"/><stop offset="0.94" stop-color="rgb(21,21,21)"/><stop offset="1" stop-color="rgb(9,9,9)"/></linearGradient>
<linearGradient id="lg15" x1="0" y1="0" x2="0" y2="1"><stop offset="0" stop-color="rgb(26,26,26)"/><stop offset="0.06" stop-color="rgb(56,56,56)"/><stop offset="0.13" stop-color="rgb(97,97,97)"/><stop offset="0.22" stop-color="rgb(148,148,148)"/><stop offset="0.32" stop-color="rgb(199,199,199)"/><stop offset="0.45" stop-color="rgb(237,237,237)"/><stop offset="0.6" stop-color="rgb(255,255,255)"/><stop offset="1" stop-color="rgb(255,255,255)"/></linearGradient>
<rect x="446.4" y="189.3" width="58.0" height="31.0" rx="2" fill="url(#rg13)" filter="url(#b3)" style="mix-blend-mode:lighten"/>
<g filter="url(#b12)" style="mix-blend-mode:lighten">
<g>
<rect x="446.4" y="189.3" width="58.0" height="31.0" rx="2" fill="url(#lg14)"/>
<rect x="446.4" y="189.3" width="58.0" height="31.0" rx="2" fill="url(#lg15)" style="mix-blend-mode:multiply"/>
</g>
<rect x="446.4" y="189.3" width="58.0" height="31.0" rx="2" fill="url(#rg13)" style="mix-blend-mode:lighten"/>
</g>
<radialGradient id="rg16" gradientUnits="userSpaceOnUse" cx="0" cy="0" r="1" gradientTransform="translate(562.2 153.2) scale(58.0 31.0)"><stop offset="0" stop-color="rgb(247,247,247)"/><stop offset="0.14" stop-color="rgb(237,237,237)"/><stop offset="0.32" stop-color="rgb(217,217,217)"/><stop offset="0.4" stop-color="rgb(191,191,191)"/><stop offset="0.475" stop-color="rgb(159,159,159)"/><stop offset="0.575" stop-color="rgb(128,128,128)"/><stop offset="0.71" stop-color="rgb(96,96,96)"/><stop offset="0.81" stop-color="rgb(69,69,69)"/><stop offset="0.88" stop-color="rgb(51,51,51)"/><stop offset="0.965" stop-color="rgb(26,26,26)"/><stop offset="1" stop-color="rgb(15,15,15)"/></radialGradient>
<linearGradient id="lg17" x1="0" y1="0" x2="1" y2="0"><stop offset="0" stop-color="rgb(9,9,9)"/><stop offset="0.06" stop-color="rgb(21,21,21)"/><stop offset="0.13" stop-color="rgb(36,36,36)"/><stop offset="0.22" stop-color="rgb(55,55,55)"/><stop offset="0.32" stop-color="rgb(74,74,74)"/><stop offset="0.45" stop-color="rgb(88,88,88)"/><stop offset="0.6" stop-color="rgb(94,94,94)"/><stop offset="1" stop-color="rgb(94,94,94)"/></linearGradient>
<linearGradient id="lg18" x1="0" y1="0" x2="0" y2="1"><stop offset="0" stop-color="rgb(255,255,255)"/><stop offset="0.4" stop-color="rgb(255,255,255)"/><stop offset="0.55" stop-color="rgb(237,237,237)"/><stop offset="0.68" stop-color="rgb(199,199,199)"/><stop offset="0.78" stop-color="rgb(148,148,148)"/><stop offset="0.87" stop-color="rgb(97,97,97)"/><stop offset="0.94" stop-color="rgb(56,56,56)"/><stop offset="1" stop-color="rgb(26,26,26)"/></linearGradient>
<rect x="504.2" y="153.2" width="58.0" height="31.0" rx="2" fill="url(#rg16)" filter="url(#b3)" style="mix-blend-mode:lighten"/>
<g filter="url(#b12)" style="mix-blend-mode:lighten">
<g>
<rect x="504.2" y="153.2" width="58.0" height="31.0" rx="2" fill="url(#lg17)"/>
<rect x="504.2" y="153.2" width="58.0" height="31.0" rx="2" fill="url(#lg18)" style="mix-blend-mode:multiply"/>
</g>
<rect x="504.2" y="153.2" width="58.0" height="31.0" rx="2" fill="url(#rg16)" style="mix-blend-mode:lighten"/>
</g>
<radialGradient id="rg19" gradientUnits="userSpaceOnUse" cx="0" cy="0" r="1" gradientTransform="translate(562.2 220.3) scale(58.0 31.0)"><stop offset="0" stop-color="rgb(247,247,247)"/><stop offset="0.14" stop-color="rgb(237,237,237)"/><stop offset="0.32" stop-color="rgb(217,217,217)"/><stop offset="0.4" stop-color="rgb(191,191,191)"/><stop offset="0.475" stop-color="rgb(159,159,159)"/><stop offset="0.575" stop-color="rgb(128,128,128)"/><stop offset="0.71" stop-color="rgb(96,96,96)"/><stop offset="0.81" stop-color="rgb(69,69,69)"/><stop offset="0.88" stop-color="rgb(51,51,51)"/><stop offset="0.965" stop-color="rgb(26,26,26)"/><stop offset="1" stop-color="rgb(15,15,15)"/></radialGradient>
<linearGradient id="lg20" x1="0" y1="0" x2="1" y2="0"><stop offset="0" stop-color="rgb(9,9,9)"/><stop offset="0.06" stop-color="rgb(21,21,21)"/><stop offset="0.13" stop-color="rgb(36,36,36)"/><stop offset="0.22" stop-color="rgb(55,55,55)"/><stop offset="0.32" stop-color="rgb(74,74,74)"/><stop offset="0.45" stop-color="rgb(88,88,88)"/><stop offset="0.6" stop-color="rgb(94,94,94)"/><stop offset="1" stop-color="rgb(94,94,94)"/></linearGradient>
<linearGradient id="lg21" x1="0" y1="0" x2="0" y2="1"><stop offset="0" stop-color="rgb(26,26,26)"/><stop offset="0.06" stop-color="rgb(56,56,56)"/><stop offset="0.13" stop-color="rgb(97,97,97)"/><stop offset="0.22" stop-color="rgb(148,148,148)"/><stop offset="0.32" stop-color="rgb(199,199,199)"/><stop offset="0.45" stop-color="rgb(237,237,237)"/><stop offset="0.6" stop-color="rgb(255,255,255)"/><stop offset="1" stop-color="rgb(255,255,255)"/></linearGradient>
<rect x="504.2" y="189.3" width="58.0" height="31.0" rx="2" fill="url(#rg19)" filter="url(#b3)" style="mix-blend-mode:lighten"/>
<g filter="url(#b12)" style="mix-blend-mode:lighten">
<g>
<rect x="504.2" y="189.3" width="58.0" height="31.0" rx="2" fill="url(#lg20)"/>
<rect x="504.2" y="189.3" width="58.0" height="31.0" rx="2" fill="url(#lg21)" style="mix-blend-mode:multiply"/>
</g>
<rect x="504.2" y="189.3" width="58.0" height="31.0" rx="2" fill="url(#rg19)" style="mix-blend-mode:lighten"/>
</g>
<rect x="501.6" y="150" width="5.6" height="74" fill="rgb(8,8,8)" filter="url(#b2)"/>
</g></g>
<clipPath id="cp3"><rect x="379.2" y="275.0" width="248.00000000000006" height="97.5"/></clipPath>
<g clip-path="url(#cp3)"><g filter="url(#jet)">
<rect x="374.2" y="270.0" width="258.00000000000006" height="107.5" fill="rgb(1,1,1)"/>
<clipPath id="cav3"><rect x="446.2" y="286" width="116.4" height="78"/></clipPath>
<rect x="446.6" y="288.5" width="115.6" height="72.5" fill="rgb(19,19,19)" filter="url(#b15)"/>
<g clip-path="url(#cav3)">
<linearGradient id="lg22" x1="0" y1="0" x2="1" y2="0"><stop offset="0" stop-color="rgb(26,26,26)"/><stop offset="0.25" stop-color="rgb(36,36,36)"/><stop offset="0.7" stop-color="rgb(33,33,33)"/><stop offset="1" stop-color="rgb(29,29,29)"/></linearGradient>
<rect x="449" y="290.2" width="116" height="10.2" fill="url(#lg22)" filter="url(#b15)"/>
<path d="M447,309 Q500,312 520,305.5 T566,302.6" stroke="rgb(13,13,13)" stroke-width="3.4" fill="none" filter="url(#b15)"/>
<linearGradient id="lg23" x1="0" y1="0" x2="1" y2="0"><stop offset="0" stop-color="rgb(24,24,24)"/><stop offset="0.45" stop-color="rgb(38,38,38)"/><stop offset="0.8" stop-color="rgb(51,51,51)"/><stop offset="1" stop-color="rgb(57,57,57)"/></linearGradient>
<path d="M486,320 L530,309 L570,305.5 L570,336.5 L530,334 Z" fill="url(#lg23)" filter="url(#b3)"/>
<ellipse cx="556" cy="321" rx="9" ry="13" fill="rgb(55,55,55)" filter="url(#b3)"/>
<path d="M470,343.6 Q520,341.6 566,339.6" stroke="rgb(14,14,14)" stroke-width="2.6" fill="none" filter="url(#b15)"/>
<linearGradient id="lg24" x1="0" y1="0" x2="1" y2="0"><stop offset="0" stop-color="rgb(23,23,23)"/><stop offset="0.35" stop-color="rgb(33,33,33)"/><stop offset="0.75" stop-color="rgb(47,47,47)"/><stop offset="1" stop-color="rgb(56,56,56)"/></linearGradient>
<rect x="484" y="345.2" width="84" height="11.6" fill="url(#lg24)" filter="url(#b15)"/>
</g>
<rect x="563" y="291" width="66" height="7" fill="rgb(10,10,10)" filter="url(#b15)"/>
<rect x="376" y="289.8" width="72" height="10.0" fill="rgb(31,31,31)" filter="url(#b1)"/>
<linearGradient id="lg25" x1="0" y1="0" x2="1" y2="0"><stop offset="0.0" stop-color="rgb(133,133,133)"/><stop offset="0.2791" stop-color="rgb(140,140,140)"/><stop offset="0.3256" stop-color="rgb(194,194,194)"/><stop offset="0.3814" stop-color="rgb(245,245,245)"/><stop offset="0.4744" stop-color="rgb(242,242,242)"/><stop offset="0.5" stop-color="rgb(227,227,227)"/><stop offset="0.6116" stop-color="rgb(217,217,217)"/><stop offset="0.6744" stop-color="rgb(189,189,189)"/><stop offset="0.7209" stop-color="rgb(161,161,161)"/><stop offset="0.7907" stop-color="rgb(128,128,128)"/><stop offset="0.8419" stop-color="rgb(97,97,97)"/><stop offset="0.9233" stop-color="rgb(51,51,51)"/><stop offset="1.0" stop-color="rgb(26,26,26)"/></linearGradient>
<linearGradient id="lg26" x1="0" y1="0" x2="0" y2="1"><stop offset="0.0" stop-color="rgb(13,13,13)"/><stop offset="0.0583" stop-color="rgb(46,46,46)"/><stop offset="0.1167" stop-color="rgb(102,102,102)"/><stop offset="0.1667" stop-color="rgb(153,153,153)"/><stop offset="0.2083" stop-color="rgb(199,199,199)"/><stop offset="0.2583" stop-color="rgb(240,240,240)"/><stop offset="0.35" stop-color="rgb(255,255,255)"/><stop offset="0.65" stop-color="rgb(255,255,255)"/><stop offset="0.7417" stop-color="rgb(240,240,240)"/><stop offset="0.7917" stop-color="rgb(199,199,199)"/><stop offset="0.8333" stop-color="rgb(153,153,153)"/><stop offset="0.8833" stop-color="rgb(102,102,102)"/><stop offset="0.9417" stop-color="rgb(46,46,46)"/><stop offset="1.0" stop-color="rgb(13,13,13)"/></linearGradient>
<g filter="url(#b1)" style="mix-blend-mode:lighten">
<rect x="376" y="288.9" width="43" height="12.0" fill="url(#lg25)"/>
<rect x="376" y="288.9" width="43" height="12.0" fill="url(#lg26)" style="mix-blend-mode:multiply"/>
</g>
<rect x="391.2" y="288.6" width="6.0" height="12.6" fill="rgb(107,107,107)" filter="url(#b1)" style="mix-blend-mode:lighten"/>
<linearGradient id="lg27" x1="0" y1="0" x2="1" y2="0"><stop offset="0.0" stop-color="rgb(26,26,26)"/><stop offset="0.1341" stop-color="rgb(92,92,92)"/><stop offset="0.3043" stop-color="rgb(128,128,128)"/><stop offset="0.4094" stop-color="rgb(161,161,161)"/><stop offset="0.5145" stop-color="rgb(191,191,191)"/><stop offset="0.6014" stop-color="rgb(217,217,217)"/><stop offset="0.7609" stop-color="rgb(230,230,230)"/><stop offset="0.8623" stop-color="rgb(245,245,245)"/><stop offset="0.9058" stop-color="rgb(158,158,158)"/><stop offset="0.9493" stop-color="rgb(76,76,76)"/><stop offset="1.0" stop-color="rgb(31,31,31)"/></linearGradient>
<linearGradient id="lg28" x1="0" y1="0" x2="0" y2="1"><stop offset="0.0" stop-color="rgb(13,13,13)"/><stop offset="0.0583" stop-color="rgb(46,46,46)"/><stop offset="0.1167" stop-color="rgb(102,102,102)"/><stop offset="0.1667" stop-color="rgb(153,153,153)"/><stop offset="0.2083" stop-color="rgb(199,199,199)"/><stop offset="0.2583" stop-color="rgb(240,240,240)"/><stop offset="0.35" stop-color="rgb(255,255,255)"/><stop offset="0.65" stop-color="rgb(255,255,255)"/><stop offset="0.7417" stop-color="rgb(240,240,240)"/><stop offset="0.7917" stop-color="rgb(199,199,199)"/><stop offset="0.8333" stop-color="rgb(153,153,153)"/><stop offset="0.8833" stop-color="rgb(102,102,102)"/><stop offset="0.9417" stop-color="rgb(46,46,46)"/><stop offset="1.0" stop-color="rgb(13,13,13)"/></linearGradient>
<g filter="url(#b1)" style="mix-blend-mode:lighten">
<rect x="419" y="288.7" width="27.600000000000023" height="12.0" fill="url(#lg27)"/>
<rect x="419" y="288.7" width="27.600000000000023" height="12.0" fill="url(#lg28)" style="mix-blend-mode:multiply"/>
</g>
</g></g>
<clipPath id="cp4"><rect x="379.2" y="407.0" width="247.00000000000006" height="97.30000000000001"/></clipPath>
<g clip-path="url(#cp4)"><g filter="url(#jet)">
<rect x="374.2" y="402.0" width="257.00000000000006" height="107.30000000000001" fill="rgb(1,1,1)"/>
<rect x="446.0" y="423.8" width="115.2" height="65.6" fill="rgb(25,25,25)" filter="url(#b1)"/>
<rect x="450" y="426" width="46" height="24" fill="rgb(34,34,34)" filter="url(#b4)"/>
<rect x="450" y="470" width="44" height="17" fill="rgb(36,36,36)" filter="url(#b3)"/>
<rect x="520" y="426" width="36" height="14" fill="rgb(31,31,31)" filter="url(#b4)"/>
<clipPath id="cav4"><rect x="444" y="421" width="120" height="71"/></clipPath>
<g clip-path="url(#cav4)">
<path d="M440,461.6 L488,461.6 Q506,462.4 508.6,476 L509.4,494" stroke="rgb(10,10,10)" stroke-width="7.0" fill="none" filter="url(#b2)"/>
<path d="M508.6,419 Q508.8,444 528,451 T566,457.6" stroke="rgb(10,10,10)" stroke-width="7.0" fill="none" filter="url(#b2)"/>
<path d="M509,428 L509,488" stroke="rgb(15,15,15)" stroke-width="3.0" fill="none" filter="url(#b2)"/>
</g>
<rect x="562" y="423.4" width="66" height="7" fill="rgb(14,14,14)" filter="url(#b15)"/>
<rect x="376" y="422.6" width="72" height="9.8" fill="rgb(31,31,31)" filter="url(#b1)"/>
<linearGradient id="lg29" x1="0" y1="0" x2="1" y2="0"><stop offset="0.0" stop-color="rgb(128,128,128)"/><stop offset="0.3441" stop-color="rgb(130,130,130)"/><stop offset="0.3941" stop-color="rgb(158,158,158)"/><stop offset="0.4647" stop-color="rgb(184,184,184)"/><stop offset="0.55" stop-color="rgb(184,184,184)"/><stop offset="0.6176" stop-color="rgb(158,158,158)"/><stop offset="0.6882" stop-color="rgb(128,128,128)"/><stop offset="0.7912" stop-color="rgb(94,94,94)"/><stop offset="0.9118" stop-color="rgb(51,51,51)"/><stop offset="1.0" stop-color="rgb(26,26,26)"/></linearGradient>
<linearGradient id="lg30" x1="0" y1="0" x2="0" y2="1"><stop offset="0.0" stop-color="rgb(13,13,13)"/><stop offset="0.0583" stop-color="rgb(46,46,46)"/><stop offset="0.1167" stop-color="rgb(102,102,102)"/><stop offset="0.1667" stop-color="rgb(153,153,153)"/><stop offset="0.2083" stop-color="rgb(199,199,199)"/><stop offset="0.2583" stop-color="rgb(240,240,240)"/><stop offset="0.35" stop-color="rgb(255,255,255)"/><stop offset="0.65" stop-color="rgb(255,255,255)"/><stop offset="0.7417" stop-color="rgb(240,240,240)"/><stop offset="0.7917" stop-color="rgb(199,199,199)"/><stop offset="0.8333" stop-color="rgb(153,153,153)"/><stop offset="0.8833" stop-color="rgb(102,102,102)"/><stop offset="0.9417" stop-color="rgb(46,46,46)"/><stop offset="1.0" stop-color="rgb(13,13,13)"/></linearGradient>
<g filter="url(#b1)" style="mix-blend-mode:lighten">
<rect x="376" y="421.2" width="34" height="12.0" fill="url(#lg29)"/>
<rect x="376" y="421.2" width="34" height="12.0" fill="url(#lg30)" style="mix-blend-mode:multiply"/>
</g>
<rect x="390.8" y="421.4" width="4.6" height="11.6" fill="rgb(92,92,92)" filter="url(#b1)" style="mix-blend-mode:lighten"/>
<linearGradient id="lg31" x1="0" y1="0" x2="1" y2="0"><stop offset="0.0" stop-color="rgb(26,26,26)"/><stop offset="0.1057" stop-color="rgb(92,92,92)"/><stop offset="0.2571" stop-color="rgb(128,128,128)"/><stop offset="0.3714" stop-color="rgb(161,161,161)"/><stop offset="0.4571" stop-color="rgb(191,191,191)"/><stop offset="0.54" stop-color="rgb(217,217,217)"/><stop offset="0.6571" stop-color="rgb(230,230,230)"/><stop offset="0.7714" stop-color="rgb(242,242,242)"/><stop offset="0.88" stop-color="rgb(247,247,247)"/><stop offset="0.9229" stop-color="rgb(158,158,158)"/><stop offset="0.96" stop-color="rgb(76,76,76)"/><stop offset="1.0" stop-color="rgb(31,31,31)"/></linearGradient>
<linearGradient id="lg32" x1="0" y1="0" x2="0" y2="1"><stop offset="0.0" stop-color="rgb(13,13,13)"/><stop offset="0.0583" stop-color="rgb(46,46,46)"/><stop offset="0.1167" stop-color="rgb(102,102,102)"/><stop offset="0.1667" stop-color="rgb(153,153,153)"/><stop offset="0.2083" stop-color="rgb(199,199,199)"/><stop offset="0.2583" stop-color="rgb(240,240,240)"/><stop offset="0.35" stop-color="rgb(255,255,255)"/><stop offset="0.65" stop-color="rgb(255,255,255)"/><stop offset="0.7417" stop-color="rgb(240,240,240)"/><stop offset="0.7917" stop-color="rgb(199,199,199)"/><stop offset="0.8333" stop-color="rgb(153,153,153)"/><stop offset="0.8833" stop-color="rgb(102,102,102)"/><stop offset="0.9417" stop-color="rgb(46,46,46)"/><stop offset="1.0" stop-color="rgb(13,13,13)"/></linearGradient>
<g filter="url(#b1)" style="mix-blend-mode:lighten">
<rect x="412" y="421.2" width="35" height="12.0" fill="url(#lg31)"/>
<rect x="412" y="421.2" width="35" height="12.0" fill="url(#lg32)" style="mix-blend-mode:multiply"/>
</g>
</g></g>
<path d="M404.3,101.2 V104.8 M429.6,101.2 V104.8 M454.9,101.2 V104.8 M480.2,101.2 V104.8 M505.5,101.2 V104.8 M530.8,101.2 V104.8 M556.1,101.2 V104.8 M581.4,101.2 V104.8 M606.7,101.2 V104.8 M380.0,98.4 h3.4 M380.0,73.1 h3.4 M380.0,47.8 h3.4 M380.0,22.5 h3.4" stroke="#00003c" stroke-width="1.1" opacity="0.42"/>
<path d="M380.0,104.39999999999999 H629.8" stroke="#000030" stroke-width="0.9" opacity="0.75"/>
<path d="M380.0,6.0 H629.8" stroke="#000040" stroke-width="0.8" opacity="0.4"/>
<path d="M403.8,232.0 V235.6 M429.1,232.0 V235.6 M454.4,232.0 V235.6 M479.7,232.0 V235.6 M505.0,232.0 V235.6 M530.3,232.0 V235.6 M555.6,232.0 V235.6 M580.9,232.0 V235.6 M606.2,232.0 V235.6 M379.5,229.2 h3.4 M379.5,203.9 h3.4 M379.5,178.6 h3.4 M379.5,153.3 h3.4" stroke="#00003c" stroke-width="1.1" opacity="0.42"/>
<path d="M379.5,235.2 H627.2" stroke="#000030" stroke-width="0.9" opacity="0.75"/>
<path d="M379.5,137.8 H627.2" stroke="#000040" stroke-width="0.8" opacity="0.4"/>
<path d="M403.5,368.9 V372.5 M428.8,368.9 V372.5 M454.1,368.9 V372.5 M479.4,368.9 V372.5 M504.7,368.9 V372.5 M530.0,368.9 V372.5 M555.3,368.9 V372.5 M580.6,368.9 V372.5 M605.9,368.9 V372.5 M379.2,366.1 h3.4 M379.2,340.8 h3.4 M379.2,315.5 h3.4 M379.2,290.2 h3.4" stroke="#00003c" stroke-width="1.1" opacity="0.42"/>
<path d="M379.2,372.1 H627.2" stroke="#000030" stroke-width="0.9" opacity="0.75"/>
<path d="M379.2,275.4 H627.2" stroke="#000040" stroke-width="0.8" opacity="0.4"/>
<path d="M403.5,500.7 V504.3 M428.8,500.7 V504.3 M454.1,500.7 V504.3 M479.4,500.7 V504.3 M504.7,500.7 V504.3 M530.0,500.7 V504.3 M555.3,500.7 V504.3 M580.6,500.7 V504.3 M605.9,500.7 V504.3 M379.2,497.9 h3.4 M379.2,472.6 h3.4 M379.2,447.3 h3.4 M379.2,422.0 h3.4" stroke="#00003c" stroke-width="1.1" opacity="0.42"/>
<path d="M379.2,503.90000000000003 H626.2" stroke="#000030" stroke-width="0.9" opacity="0.75"/>
<path d="M379.2,407.4 H626.2" stroke="#000040" stroke-width="0.8" opacity="0.4"/>
<text x="383.4" y="52.2" font-size="14.8" text-anchor="start" fill="#fff" font-family='"Liberation Serif", "Times New Roman", serif' textLength="30" lengthAdjust="spacingAndGlyphs" stroke="#fff" stroke-width="0.22">input</text>
<text x="383.4" y="70.6" font-size="14.8" text-anchor="start" fill="#fff" font-family='"Liberation Serif", "Times New Roman", serif' textLength="58.0" lengthAdjust="spacingAndGlyphs" stroke="#fff" stroke-width="0.22">&#955;=999nm</text>
<text x="380.5" y="185.7" font-size="14.8" text-anchor="start" fill="#fff" font-family='"Liberation Serif", "Times New Roman", serif' textLength="30" lengthAdjust="spacingAndGlyphs" stroke="#fff" stroke-width="0.22">input</text>
<text x="380.5" y="202.6" font-size="14.8" text-anchor="start" fill="#fff" font-family='"Liberation Serif", "Times New Roman", serif' textLength="64.8" lengthAdjust="spacingAndGlyphs" stroke="#fff" stroke-width="0.22">&#955;=1253nm</text>
<text x="383.2" y="322.6" font-size="14.8" text-anchor="start" fill="#fff" font-family='"Liberation Serif", "Times New Roman", serif' textLength="30" lengthAdjust="spacingAndGlyphs" stroke="#fff" stroke-width="0.22">input</text>
<text x="383.2" y="339.6" font-size="14.8" text-anchor="start" fill="#fff" font-family='"Liberation Serif", "Times New Roman", serif' textLength="57.8" lengthAdjust="spacingAndGlyphs" stroke="#fff" stroke-width="0.22">&#955;=999nm</text>
<text x="380.5" y="451.6" font-size="14.8" text-anchor="start" fill="#fff" font-family='"Liberation Serif", "Times New Roman", serif' textLength="30" lengthAdjust="spacingAndGlyphs" stroke="#fff" stroke-width="0.22">input</text>
<text x="380.5" y="468.8" font-size="14.8" text-anchor="start" fill="#fff" font-family='"Liberation Serif", "Times New Roman", serif' textLength="65.2" lengthAdjust="spacingAndGlyphs" stroke="#fff" stroke-width="0.22">&#955;=1253nm</text>
<text x="586.4" y="88.8" font-size="20.2" text-anchor="start" fill="#fff" font-family='"Liberation Serif", "Times New Roman", serif' stroke="#fff" stroke-width="0.22">on</text>
<text x="588.6" y="214.0" font-size="20.2" text-anchor="start" fill="#fff" font-family='"Liberation Serif", "Times New Roman", serif' stroke="#fff" stroke-width="0.22">on</text>
<text x="585.2" y="350.1" font-size="20.6" text-anchor="start" fill="#fff" font-family='"Liberation Serif", "Times New Roman", serif' stroke="#fff" stroke-width="0.22">off</text>
<text x="588.2" y="473.2" font-size="20.6" text-anchor="start" fill="#fff" font-family='"Liberation Serif", "Times New Roman", serif' stroke="#fff" stroke-width="0.22">off</text>
<rect x="642.8" y="178.9" width="9.4" height="152" fill="url(#cbar)"/>
<path d="M642.8,184.6 H655.6" stroke="#111" stroke-width="0.9"/>
<text x="656.6" y="188.7" font-size="11.2" text-anchor="start" fill="#2a2a2a" font-family='"Liberation Sans", Arial, sans-serif'>1.2</text>
<path d="M642.8,221.1 H655.6" stroke="#111" stroke-width="0.9"/>
<text x="656.6" y="225.2" font-size="11.2" text-anchor="start" fill="#2a2a2a" font-family='"Liberation Sans", Arial, sans-serif'>0.9</text>
<path d="M642.8,257.4 H655.6" stroke="#111" stroke-width="0.9"/>
<text x="656.6" y="261.5" font-size="11.2" text-anchor="start" fill="#2a2a2a" font-family='"Liberation Sans", Arial, sans-serif'>0.6</text>
<path d="M642.8,294.0 H655.6" stroke="#111" stroke-width="0.9"/>
<text x="656.6" y="298.1" font-size="11.2" text-anchor="start" fill="#2a2a2a" font-family='"Liberation Sans", Arial, sans-serif'>0.3</text>
<path d="M642.8,330.3 H655.6" stroke="#111" stroke-width="0.9"/>
<text x="656.6" y="334.4" font-size="11.2" text-anchor="start" fill="#2a2a2a" font-family='"Liberation Sans", Arial, sans-serif'>0.0</text>
<text x="656.6" y="168.6" font-size="12" text-anchor="start" fill="#2a2a2a" font-family='"Liberation Sans", Arial, sans-serif'>x10</text>
<text x="675.6" y="155.4" font-size="8.4" text-anchor="start" fill="#2a2a2a" font-family='"Liberation Sans", Arial, sans-serif' font-weight="bold">-2</text>
</svg></body></html>
